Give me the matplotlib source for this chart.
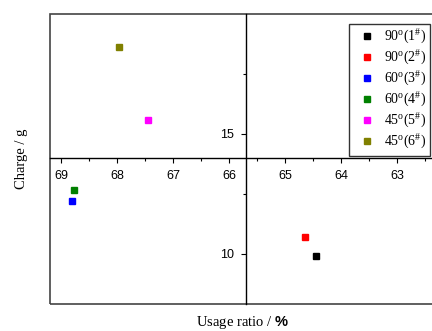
import numpy as np
import matplotlib
matplotlib.use("Agg")
import matplotlib.pyplot as plt
from matplotlib.patches import Rectangle

plt.rcParams['font.family'] = 'Liberation Sans'
plt.rcParams['mathtext.fontset'] = 'custom'
plt.rcParams['mathtext.rm'] = 'Liberation Serif'
plt.rcParams['mathtext.it'] = 'Liberation Serif:italic'
plt.rcParams['mathtext.bf'] = 'Liberation Sans:bold'

# Samples
labels = [r'90$^{\rm o}$(1$^{\#}$)', r'90$^{\rm o}$(2$^{\#}$)',
          r'60$^{\rm o}$(3$^{\#}$)', r'60$^{\rm o}$(4$^{\#}$)',
          r'45$^{\rm o}$(5$^{\#}$)', r'45$^{\rm o}$(6$^{\#}$)']
usage = [64.44, 64.64, 68.80, 68.77, 67.44, 67.96]
charge = [9.90, 10.68, 12.19, 12.66, 15.59, 18.61]
colors = ['#000000', '#ff0000', '#0000ff', '#008000', '#ff00ff', '#808000']

fig = plt.figure(figsize=(4.32, 3.31), dpi=100)
ax = fig.add_axes([50 / 432, 27 / 331, 386 / 432, 290 / 331])

for x, y, c, lab in zip(usage, charge, colors, labels):
    ax.plot(x, y, 's', color=c, markersize=4.2, label=lab, linestyle='none')

ax.set_xlim(69.2, 62.3)
ax.set_ylim(7.9, 20)

# axes cross inside the plot, Origin style
ax.spines['left'].set_position(('data', 65.7))
ax.spines['bottom'].set_position(('data', 14))
ax.spines['top'].set_visible(False)
ax.spines['right'].set_visible(False)
for s in ('left', 'bottom'):
    ax.spines[s].set_linewidth(1.0)
ax.add_patch(Rectangle((0, 0), 1, 1, transform=ax.transAxes, fill=False,
                       edgecolor='#444444', linewidth=1.2, clip_on=False))

ax.set_xticks([69, 68, 67, 66, 65, 64, 63])
ax.set_xticks(np.arange(62.5, 69.5, 1.0), minor=True)
ax.set_yticks([10, 15])
ax.set_yticks([12.5, 17.5], minor=True)
ax.tick_params(axis='both', which='major', length=3.5, width=0.8,
               labelsize=9, direction='out', pad=5)
ax.tick_params(axis='both', which='minor', length=2, width=0.8,
               direction='out')

ax.set_xlabel(r'Usage ratio / $\mathbf{\%}$', family='Liberation Serif',
              fontsize=10.5)
ax.set_ylabel('Charge / g', family='Liberation Serif', fontsize=10.5)
ax.xaxis.set_label_coords(0.5, -0.035)
ax.yaxis.set_label_coords(-0.058, 0.5)

leg = ax.legend(loc='upper right', bbox_to_anchor=(0.984, 0.966),
                borderaxespad=0, fontsize=10, frameon=True, fancybox=False,
                handlelength=2.0, handletextpad=0.2, borderpad=0.3,
                labelspacing=0.2, markerscale=0.9)
leg.get_frame().set_edgecolor('black')
leg.get_frame().set_linewidth(1.0)
for t in leg.get_texts():
    t.set_family('Liberation Serif')

fig.savefig('out.png', dpi=100)
